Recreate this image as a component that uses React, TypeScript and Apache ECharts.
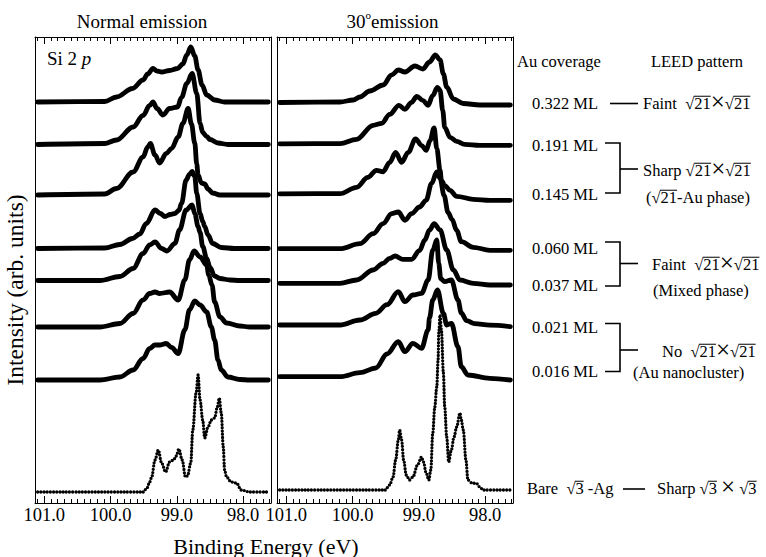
import React, { useEffect, useRef } from 'react';
import * as echarts from 'echarts';

// ---------------- axis values ----------------
const energyMin = 97.58;
const energyMax = 101.14;
const majorTickValues = [98.0, 99.0, 100.0, 101.0];
const intensityMax = 466;

// ---------------- texts ----------------
const normalTitle = 'Normal emission';
const tiltedTitleParts = ['30', 'o', 'emission'];
const xAxisTitle = 'Binding Energy (eV)';
const yAxisTitle = 'Intensity (arb. units)';
const coreLevel = ['Si 2 ', 'p'];
const coverageHeader = 'Au coverage';
const leedHeader = 'LEED pattern';
const coverageLabels = ['0.322 ML', '0.191 ML', '0.145 ML', '0.060 ML', '0.037 ML', '0.021 ML', '0.016 ML'];

// ---------------- vertical offsets of the stacked spectra ----------------
const normalOffsets = [401, 358.5, 308, 254.5, 222.5, 176, 123, 11];
const tiltedOffsets = [398, 357.7, 302.7, 252.7, 218, 176.3, 123, 13];

// ---------------- spectra: [binding energy (eV), intensity (arb.)] ----------------
// Normal emission
const normal0322 = [[101.10,0],[100.09,0.5],[99.91,5],[99.67,13.5],[99.51,22],[99.44,28],[99.36,33.5],[99.30,31],[99.23,30],[99.11,31.5],[98.99,33.5],[98.91,38],[98.85,47],[98.79,55],[98.73,46],[98.68,32],[98.62,17],[98.55,7],[98.43,2],[98.28,0],[97.62,0]];
const normal0191 = [[101.10,0],[100.09,1],[99.91,4.5],[99.66,17.5],[99.51,29],[99.41,39],[99.36,42.5],[99.30,36],[99.21,29.5],[99.11,36],[98.99,37.5],[98.93,47],[98.85,61],[98.77,71],[98.70,51],[98.65,21],[98.61,12],[98.55,8],[98.50,5],[98.38,1.5],[98.23,0],[97.62,0]];
const normal0145 = [[101.10,0],[100.09,1],[99.91,6.5],[99.66,23],[99.51,38],[99.44,48],[99.40,51.5],[99.33,40],[99.26,32],[99.16,41.5],[99.08,46.5],[98.98,58],[98.91,71.5],[98.83,86.5],[98.78,71],[98.73,52],[98.70,31],[98.68,20],[98.63,12],[98.58,11],[98.53,6],[98.46,2],[98.35,0],[97.62,0]];
const normal0060 = [[101.10,0],[100.09,0.5],[99.86,4],[99.67,10],[99.56,14.5],[99.46,25],[99.33,38.5],[99.25,35],[99.18,32],[99.10,34],[99.03,35],[98.97,38],[98.93,45],[98.86,68.5],[98.81,74],[98.77,77],[98.73,72],[98.70,55],[98.65,35],[98.61,27],[98.58,22],[98.53,13.5],[98.46,5],[98.33,1],[98.13,0],[97.62,0]];
const normal0037 = [[101.10,0],[100.16,0],[99.86,4],[99.66,12],[99.51,27],[99.41,35.5],[99.33,38.5],[99.23,32],[99.15,29.5],[99.03,37],[98.96,50.5],[98.86,70.5],[98.77,75.5],[98.73,67],[98.68,54],[98.65,48],[98.61,34],[98.55,22],[98.50,13],[98.43,4.5],[98.35,2],[98.20,0.5],[98.05,0],[97.62,0]];
const normal0021 = [[101.10,0],[100.16,0],[99.86,3.5],[99.66,13.5],[99.51,27],[99.41,33.5],[99.33,35],[99.26,33.5],[99.11,35],[98.98,27],[98.88,47],[98.81,67],[98.74,76],[98.65,70],[98.55,62],[98.52,52],[98.47,42],[98.43,25],[98.35,10],[98.25,4],[98.05,1],[97.90,0],[97.62,0]];
const normal0016 = [[101.10,0],[100.16,0],[99.86,3],[99.66,10],[99.51,21.5],[99.41,31.5],[99.33,35],[99.26,35],[99.16,36.5],[99.08,32.5],[98.98,26.5],[98.88,50],[98.81,70],[98.73,79],[98.65,75],[98.55,68],[98.48,53],[98.43,40],[98.38,20],[98.33,10],[98.23,3],[98.05,0.5],[97.90,0],[97.62,0]];
const normalBare = [[101.10,0],[99.51,0],[99.45,4],[99.41,10],[99.38,15],[99.33,32],[99.28,42],[99.23,29],[99.17,20],[99.11,30],[99.05,32],[99.01,36],[98.97,43],[98.92,32],[98.87,15],[98.84,16],[98.79,29],[98.76,62],[98.71,99],[98.68,117],[98.65,92],[98.61,72],[98.58,54],[98.53,65],[98.48,72],[98.43,74],[98.39,85],[98.36,94],[98.33,79],[98.30,45],[98.28,22],[98.25,15],[98.18,10],[98.10,9],[98.03,2],[97.90,0],[97.62,0]];

// 30 degree emission
const tilted0322 = [[101.10,2.5],[100.19,3],[99.99,5],[99.89,8],[99.74,14],[99.54,20],[99.41,30],[99.31,35],[99.21,33],[99.06,39],[98.94,36],[98.84,43],[98.75,50],[98.68,45],[98.63,31],[98.58,18],[98.48,6],[98.33,1.5],[98.08,0],[97.62,0]];
const tilted0191 = [[101.10,1.5],[100.19,1.6],[99.94,6],[99.69,20],[99.56,22],[99.44,31],[99.30,40],[99.21,36],[99.11,43],[99.03,49],[98.94,45],[98.86,40],[98.79,50],[98.72,58],[98.68,55],[98.64,35],[98.61,18],[98.53,8],[98.43,4],[98.31,1],[98.08,0],[97.62,0]];
const tilted0145 = [[101.10,6.5],[100.19,6.6],[99.94,13],[99.77,23],[99.64,30],[99.54,28.5],[99.44,38],[99.35,48],[99.26,38],[99.16,48],[99.05,61.5],[98.96,55],[98.89,50],[98.83,60],[98.77,72.5],[98.73,52],[98.68,30],[98.66,20],[98.61,15],[98.53,10],[98.43,4],[98.18,1],[97.93,0],[97.62,0]];
const tilted0060 = [[101.10,1.6],[100.19,1.6],[99.89,6.6],[99.69,16.6],[99.54,26.6],[99.41,36.6],[99.31,38.3],[99.21,30],[99.11,36.6],[98.99,43.3],[98.89,50],[98.81,66.6],[98.73,78.3],[98.68,72],[98.62,55],[98.56,38],[98.50,31],[98.43,20],[98.36,8.6],[98.18,3],[97.93,0],[97.62,0]];
const tilted0037 = [[101.10,1.7],[100.19,1.7],[99.94,5],[99.69,15],[99.54,21.7],[99.44,26.7],[99.36,29],[99.24,25.7],[99.11,25.7],[98.99,34.3],[98.91,45],[98.84,55],[98.77,61.3],[98.68,55],[98.58,35],[98.48,15],[98.38,5],[98.18,1.7],[97.93,0],[97.62,0]];
const tilted0021 = [[101.10,1.7],[100.19,1.7],[99.89,6.7],[99.65,13.4],[99.48,22],[99.31,35],[99.21,25],[99.09,31.7],[98.96,33.3],[98.86,46.7],[98.79,76.7],[98.73,86.7],[98.70,63.4],[98.67,48],[98.61,45],[98.51,46.7],[98.41,26.7],[98.36,13.7],[98.28,6],[98.16,3],[97.93,1.5],[97.62,0]];
const tilted0016 = [[101.10,3.3],[100.19,3.3],[99.89,7.3],[99.65,12],[99.48,26],[99.31,38.3],[99.21,28.3],[99.09,36.7],[98.96,31.7],[98.86,50],[98.84,62],[98.79,80],[98.72,90],[98.63,66.7],[98.58,55],[98.51,56.7],[98.41,33.3],[98.36,13.3],[98.26,5],[97.93,1.7],[97.62,0]];
const tiltedBare = [[101.10,0],[99.51,0],[99.44,5],[99.39,13],[99.35,30],[99.31,50],[99.29,60],[99.26,50],[99.23,30],[99.19,15],[99.14,10],[99.09,13],[99.02,25],[98.96,33],[98.93,28],[98.89,17],[98.85,10],[98.82,20],[98.79,57],[98.76,83],[98.73,103],[98.71,130],[98.70,157],[98.68,175],[98.66,160],[98.63,117],[98.61,83],[98.58,53],[98.55,28],[98.51,40],[98.47,53],[98.43,63],[98.38,77],[98.36,70],[98.33,60],[98.29,30],[98.26,10],[98.20,7],[98.13,6.5],[98.08,3],[98.03,0],[97.62,0]];

const normalSpectra = [normal0322, normal0191, normal0145, normal0060, normal0037, normal0021, normal0016, normalBare];
const tiltedSpectra = [tilted0322, tilted0191, tilted0145, tilted0060, tilted0037, tilted0021, tilted0016, tiltedBare];

// ---------------- styling / layout ----------------
const SERIF = '"Liberation Serif", "Times New Roman", serif';
const BLACK = '#000';

type Part = { t: string; s?: number; dy?: number; ov?: boolean; it?: boolean };

let measureCtx: CanvasRenderingContext2D | null = null;
function measure(text: string, size: number, italic?: boolean): number {
  if (!measureCtx) measureCtx = document.createElement('canvas').getContext('2d');
  measureCtx!.font = `${italic ? 'italic ' : ''}${size}px ${SERIF}`;
  return measureCtx!.measureText(text).width;
}

function partsLine(x: number, y: number, parts: Part[], base: number): any[] {
  const els: any[] = [];
  let cx = x;
  for (const p of parts) {
    const size = p.s ?? base;
    const w = measure(p.t, size, p.it);
    els.push({
      type: 'text', x: cx, y: y + (p.dy || 0), silent: true,
      style: { text: p.t, fontSize: size, fontFamily: SERIF, fontStyle: p.it ? 'italic' : 'normal', fill: BLACK, align: 'left', verticalAlign: 'middle' },
    });
    if (p.ov) {
      const oy = y - 0.41 * size;
      els.push({ type: 'line', silent: true, shape: { x1: cx - 0.5, y1: oy, x2: cx + w, y2: oy }, style: { stroke: BLACK, lineWidth: 1 } });
    }
    cx += w;
  }
  return els;
}

const sq = (n: string): Part[] => [{ t: '√' }, { t: n, ov: true }];
const times: Part = { t: '×', s: 25, dy: -2 };

function buildOption(): any {
  const grids = [
    { left: 35, top: 37, width: 236, height: 466 },
    { left: 277, top: 37, width: 236, height: 466 },
  ];
  const minorTickValues: number[] = [];
  for (let k = 976; k <= 1011; k++) if (k % 10 !== 0) minorTickValues.push(k / 10);

  const lineStyle = { color: BLACK, width: 1 };
  const xAxes: any[] = [];
  const yAxes: any[] = [];
  grids.forEach((_, gi) => {
    const base = { type: 'value', gridIndex: gi, min: energyMin, max: energyMax, inverse: true, splitLine: { show: false }, minorTick: { show: false } };
    const major = { show: true, inside: true, length: 7, customValues: majorTickValues, lineStyle };
    const minor = { show: true, inside: true, length: 4, customValues: minorTickValues, lineStyle };
    xAxes.push({ ...base, position: 'bottom', axisLine: { show: true, onZero: false, lineStyle }, axisTick: major,
      axisLabel: { show: true, customValues: majorTickValues, formatter: (v: number) => v.toFixed(1), color: BLACK, fontFamily: SERIF, fontSize: 18.5, margin: 2 } });
    xAxes.push({ ...base, position: 'bottom', axisLine: { show: false, onZero: false }, axisTick: minor, axisLabel: { show: false } });
    xAxes.push({ ...base, position: 'top', axisLine: { show: true, onZero: false, lineStyle }, axisTick: major, axisLabel: { show: false } });
    xAxes.push({ ...base, position: 'top', axisLine: { show: false, onZero: false }, axisTick: minor, axisLabel: { show: false } });
    const ybase = { type: 'value', gridIndex: gi, min: 0, max: intensityMax, axisTick: { show: false }, axisLabel: { show: false }, splitLine: { show: false } };
    yAxes.push({ ...ybase, position: 'left', axisLine: { show: true, onZero: false, lineStyle } });
    yAxes.push({ ...ybase, position: 'right', axisLine: { show: true, onZero: false, lineStyle } });
  });

  const series: any[] = [];
  [normalSpectra, tiltedSpectra].forEach((set, p) => {
    const offs = p === 0 ? normalOffsets : tiltedOffsets;
    set.forEach((spec, i) => {
      const bare = i === 7;
      series.push({
        type: 'line', xAxisIndex: p * 4, yAxisIndex: p * 2,
        data: spec.map(([e, h]) => [e, h + offs[i]]),
        smooth: 0.35, smoothMonotone: 'x', symbol: 'none', silent: true,
        lineStyle: bare
          ? { color: BLACK, width: 3.3, cap: 'round', join: 'round', type: [0, 3.2] }
          : { color: BLACK, width: 4.8, cap: 'round', join: 'round' },
      });
    });
  });

  const g: any[] = [];
  // panel titles
  g.push({ type: 'text', x: 142, y: 21, silent: true, style: { text: normalTitle, fontSize: 19, fontFamily: SERIF, fill: BLACK, align: 'center', verticalAlign: 'middle' } });
  g.push(...partsLine(346.5, 21, [{ t: tiltedTitleParts[0] }, { t: tiltedTitleParts[1], s: 11, dy: -6 }, { t: tiltedTitleParts[2] }], 19));
  // core level label
  g.push(...partsLine(47, 58, [{ t: coreLevel[0] }, { t: coreLevel[1], it: true }], 19));
  // axis titles
  g.push({ type: 'text', x: 266, y: 546, silent: true, style: { text: xAxisTitle, fontSize: 22, fontFamily: SERIF, fill: BLACK, align: 'center', verticalAlign: 'middle' } });
  g.push({ type: 'text', x: 15, y: 290, rotation: Math.PI / 2, silent: true, style: { text: yAxisTitle, fontSize: 23.5, fontFamily: SERIF, fill: BLACK, align: 'center', verticalAlign: 'middle' } });
  // headers
  g.push({ type: 'text', x: 517, y: 61, silent: true, style: { text: coverageHeader, fontSize: 16.5, fontFamily: SERIF, fill: BLACK, align: 'left', verticalAlign: 'middle' } });
  g.push({ type: 'text', x: 697, y: 61, silent: true, style: { text: leedHeader, fontSize: 16.5, fontFamily: SERIF, fill: BLACK, align: 'center', verticalAlign: 'middle' } });
  // coverage labels
  const coverageY = [103, 145, 194, 248, 285, 327, 371];
  coverageLabels.forEach((t, i) => {
    g.push({ type: 'text', x: 598, y: coverageY[i], silent: true, style: { text: t, fontSize: 16.5, fontFamily: SERIF, fill: BLACK, align: 'right', verticalAlign: 'middle' } });
  });
  // connectors
  const conn = { stroke: BLACK, lineWidth: 1.6 };
  g.push({ type: 'line', silent: true, shape: { x1: 610, y1: 103.5, x2: 638, y2: 103.5 }, style: conn });
  const brackets = [[143, 193, 169], [242, 286, 263.5], [323.5, 371.5, 350]];
  brackets.forEach(([t, b, m]) => {
    g.push({ type: 'polyline', silent: true, shape: { points: [[605, t], [620, t], [620, b], [605, b]] }, style: { ...conn, fill: 'none' } });
    g.push({ type: 'line', silent: true, shape: { x1: 620, y1: m, x2: 638, y2: m }, style: conn });
  });
  g.push({ type: 'line', silent: true, shape: { x1: 623, y1: 489, x2: 645, y2: 489 }, style: conn });
  // LEED descriptions
  const F = 16.5;
  g.push(...partsLine(643, 103, [{ t: 'Faint  ' }, ...sq('21'), times, ...sq('21')], F));
  g.push(...partsLine(643, 170, [{ t: 'Sharp ' }, ...sq('21'), times, ...sq('21')], F));
  g.push(...partsLine(646, 197, [{ t: '(' }, ...sq('21'), { t: '-Au phase)' }], F));
  g.push(...partsLine(652, 264, [{ t: 'Faint  ' }, ...sq('21'), times, ...sq('21')], F));
  g.push(...partsLine(653, 290, [{ t: '(Mixed phase)' }], F));
  g.push(...partsLine(662, 351, [{ t: 'No  ' }, ...sq('21'), times, ...sq('21')], F));
  g.push(...partsLine(633, 372, [{ t: '(Au nanocluster)' }], F));
  g.push(...partsLine(527, 488, [{ t: 'Bare  ' }, ...sq('3'), { t: ' -Ag' }], F));
  g.push(...partsLine(657, 488, [{ t: 'Sharp ' }, ...sq('3'), { t: ' ' }, times, { t: ' ' }, ...sq('3')], F));

  return {
    animation: false,
    backgroundColor: '#fff',
    grid: grids,
    xAxis: xAxes,
    yAxis: yAxes,
    series,
    graphic: g,
  };
}

export default function App() {
  const ref = useRef<HTMLDivElement>(null);
  useEffect(() => {
    document.body.style.margin = '0';
    const chart = echarts.init(ref.current!, null, { renderer: 'svg' });
    chart.setOption(buildOption());
    return () => chart.dispose();
  }, []);
  return <div ref={ref} style={{ position: 'absolute', left: 0, top: 0, width: 766, height: 557, background: '#fff' }} />;
}
